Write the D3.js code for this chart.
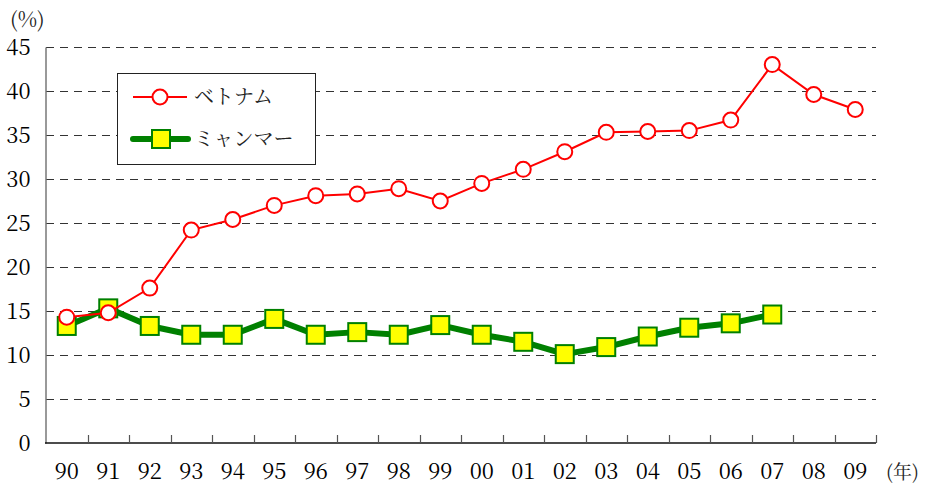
<!DOCTYPE html>
<html><head><meta charset="utf-8">
<script src="https://cdn.jsdelivr.net/npm/d3@7"></script>
<style>body{margin:0;background:#fff}svg{display:block}
.serif{font-family:"Noto Serif CJK JP","Liberation Serif",serif}
.jp{font-family:"Noto Serif CJK JP","Noto Sans CJK JP",serif}</style>
</head><body>
<svg id="c" width="928" height="486"></svg>
<script>
const years = ["90","91","92","93","94","95","96","97","98","99","00","01","02","03","04","05","06","07","08","09"];
const vietnam = [14.3,14.8,17.6,24.2,25.4,27.0,28.1,28.3,28.9,27.5,29.5,31.1,33.1,35.3,35.4,35.5,36.7,43.0,39.6,37.9];
const myanmar = [13.3,15.3,13.3,12.3,12.3,14.1,12.3,12.6,12.3,13.4,12.3,11.5,10.1,10.9,12.1,13.1,13.6,14.6];
const yTicks = [0,5,10,15,20,25,30,35,40,45];
const seriesNames = ["ベトナム","ミャンマー"];

(function(){
const svg = d3.select("#c");
const mL = 46, mR = 876, mT = 47, mB = 443;
const x = d3.scaleBand().domain(years).range([mL, mR]);
const y = d3.scaleLinear().domain([0,45]).range([mB, mT]);

// gridlines
svg.append("g").selectAll("line").data(yTicks.filter(d=>d>0)).join("line")
  .attr("x1", mL).attr("x2", mR)
  .attr("y1", d=>Math.round(y(d))+0.5).attr("y2", d=>Math.round(y(d))+0.5)
  .attr("stroke","#333").attr("stroke-width",1).attr("stroke-dasharray","8,6");

// y axis
const yAxis = svg.append("g").attr("transform",`translate(${mL-0.5},0)`)
  .call(d3.axisLeft(y).tickValues(yTicks).tickSize(0).tickPadding(15));
yAxis.attr("font-family",null).attr("font-size",null);
yAxis.select(".domain").attr("stroke","#777").attr("stroke-width",1.5);
yAxis.selectAll("text").attr("class","serif").style("font-size","22px").attr("fill","#000");

// x axis (ticks inward at band boundaries)
const xg = svg.append("g").attr("transform",`translate(0,${mB})`);
xg.append("line").attr("x1",mL-1).attr("x2",mR).attr("y1",0).attr("y2",0).attr("stroke","#111").attr("stroke-width",1.5);
xg.selectAll("line.t").data(years.slice(1).concat(["end"])).join("line").attr("class","t")
  .attr("x1",(d,i)=>Math.round(mL + x.step()*(i+1))+0.5)
  .attr("x2",(d,i)=>Math.round(mL + x.step()*(i+1))+0.5)
  .attr("y1",0).attr("y2",-8).attr("stroke","#555").attr("stroke-width",1.2);
xg.selectAll("text").data(years).join("text").attr("class","serif")
  .attr("x", d=>x(d)+x.bandwidth()/2).attr("y",36)
  .attr("text-anchor","middle").style("font-size","22px").attr("fill","#000")
  .text(d=>d);

svg.append("text").attr("x",10).attr("y",27).attr("class","serif").style("font-size","21px").attr("fill","#222").text("(%)");
svg.append("text").attr("x",886).attr("y",479).attr("class","jp").style("font-size","19px").attr("fill","#222")
  .text("(年)");

const cx = (d,i)=>x(years[i])+x.bandwidth()/2;
const line = d3.line().x(cx).y(d=>y(d));

// Myanmar
svg.append("path").datum(myanmar).attr("d",line).attr("fill","none").attr("stroke","#008000").attr("stroke-width",6).attr("stroke-linejoin","round");
svg.append("g").selectAll("rect").data(myanmar).join("rect")
  .attr("x",(d,i)=>cx(d,i)-9).attr("y",d=>y(d)-9).attr("width",18).attr("height",18)
  .attr("fill","#ffff00").attr("stroke","#008000").attr("stroke-width",2);

// Vietnam
svg.append("path").datum(vietnam).attr("d",line).attr("fill","none").attr("stroke","#ff0000").attr("stroke-width",2);
svg.append("g").selectAll("circle").data(vietnam).join("circle")
  .attr("cx",cx).attr("cy",d=>y(d)).attr("r",7.5)
  .attr("fill","#fff").attr("stroke","#ff0000").attr("stroke-width",2);

// legend
const lg = svg.append("g");
lg.append("rect").attr("x",117.5).attr("y",73.5).attr("width",198).attr("height",91).attr("fill","#fff").attr("stroke","#222").attr("stroke-width",1);
lg.append("line").attr("x1",133).attr("x2",187).attr("y1",97).attr("y2",97).attr("stroke","#ff0000").attr("stroke-width",2);
lg.append("circle").attr("cx",160).attr("cy",97).attr("r",7.5).attr("fill","#fff").attr("stroke","#ff0000").attr("stroke-width",2);
lg.append("line").attr("x1",133).attr("x2",188).attr("y1",139).attr("y2",139).attr("stroke","#008000").attr("stroke-width",6).attr("stroke-linecap","round");
lg.append("rect").attr("x",152).attr("y",130).attr("width",18).attr("height",18).attr("fill","#ffff00").attr("stroke","#008000").attr("stroke-width",2);
lg.append("text").attr("x",194).attr("y",104).attr("class","jp").style("font-size","20px").attr("fill","#222").text(seriesNames[0]);
lg.append("text").attr("x",194).attr("y",146).attr("class","jp").style("font-size","20px").attr("fill","#222").text(seriesNames[1]);
})();
</script>
</body></html>
